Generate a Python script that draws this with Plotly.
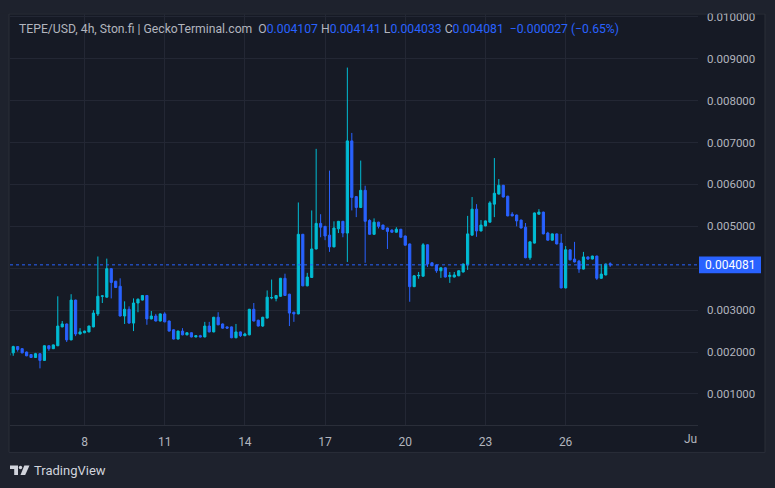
import pandas as pd
import plotly.graph_objects as go

# ---------------- data (4h candles, TEPE/USD) ----------------
start_time = "2024-06-05 04:00"
opens = [0.00192, 0.00198, 0.00213, 0.00208, 0.00200, 0.00194, 0.00187, 0.00196, 0.00180, 0.00215,
         0.00208, 0.00215, 0.00260, 0.00267, 0.00229, 0.00324, 0.00243, 0.00246, 0.00248, 0.00260,
         0.00291, 0.00333, 0.00331, 0.00399, 0.00369, 0.00357, 0.00286, 0.00302, 0.00269, 0.00317,
         0.00324, 0.00335, 0.00279, 0.00286, 0.00274, 0.00291, 0.00274, 0.00253, 0.00231, 0.00250,
         0.00241, 0.00246, 0.00236, 0.00239, 0.00236, 0.00262, 0.00248, 0.00283, 0.00267, 0.00260,
         0.00260, 0.00234, 0.00248, 0.00239, 0.00241, 0.00302, 0.00276, 0.00262, 0.00281, 0.00329,
         0.00328, 0.00333, 0.00376, 0.00338, 0.00295, 0.00291, 0.00481, 0.00358, 0.00378, 0.00446,
         0.00507, 0.00500, 0.00479, 0.00451, 0.00494, 0.00512, 0.00484, 0.00704, 0.00571, 0.00545,
         0.00586, 0.00514, 0.00481, 0.00510, 0.00503, 0.00496, 0.00491, 0.00486, 0.00493, 0.00477,
         0.00458, 0.00356, 0.00382, 0.00381, 0.00456, 0.00413, 0.00408, 0.00394, 0.00401, 0.00380,
         0.00379, 0.00382, 0.00391, 0.00408, 0.00479, 0.00541, 0.00489, 0.00501, 0.00510, 0.00553,
         0.00577, 0.00598, 0.00572, 0.00529, 0.00527, 0.00515, 0.00498, 0.00425, 0.00460, 0.00529,
         0.00534, 0.00484, 0.00467, 0.00482, 0.00460, 0.00353, 0.00444, 0.00422, 0.00417, 0.00398,
         0.00427, 0.00422, 0.00429, 0.00376, 0.00384, 0.004107]
highs = [0.00199, 0.00215, 0.00214, 0.00209, 0.00201, 0.00195, 0.00198, 0.00197, 0.00216, 0.00216,
         0.00218, 0.00333, 0.00274, 0.00268, 0.00338, 0.00325, 0.00257, 0.00251, 0.00263, 0.00300,
         0.00428, 0.00335, 0.00423, 0.00400, 0.00370, 0.00376, 0.00321, 0.00309, 0.00328, 0.00328,
         0.00336, 0.00336, 0.00298, 0.00291, 0.00292, 0.00295, 0.00275, 0.00254, 0.00251, 0.00257,
         0.00247, 0.00247, 0.00240, 0.00241, 0.00272, 0.00272, 0.00284, 0.00295, 0.00268, 0.00261,
         0.00261, 0.00267, 0.00249, 0.00246, 0.00303, 0.00317, 0.00277, 0.00284, 0.00347, 0.00373,
         0.00336, 0.00377, 0.00387, 0.00339, 0.00296, 0.00557, 0.00482, 0.00389, 0.00538, 0.00685,
         0.00529, 0.00501, 0.00633, 0.00512, 0.00513, 0.00513, 0.00879, 0.00723, 0.00572, 0.00657,
         0.00597, 0.00517, 0.00519, 0.00511, 0.00504, 0.00497, 0.00493, 0.00498, 0.00494, 0.00478,
         0.00459, 0.00383, 0.00391, 0.00460, 0.00457, 0.00414, 0.00409, 0.00402, 0.00402, 0.00391,
         0.00391, 0.00395, 0.00411, 0.00525, 0.00570, 0.00553, 0.00515, 0.00514, 0.00560, 0.00663,
         0.00613, 0.00599, 0.00573, 0.00534, 0.00528, 0.00516, 0.00508, 0.00464, 0.00533, 0.00541,
         0.00535, 0.00487, 0.00483, 0.00483, 0.00482, 0.00453, 0.00445, 0.00463, 0.00420, 0.00439,
         0.00428, 0.00430, 0.00430, 0.00410, 0.00411, 0.004141]
lows = [0.00180, 0.00191, 0.00201, 0.00197, 0.00190, 0.00186, 0.00186, 0.00161, 0.00179, 0.00203,
        0.00207, 0.00214, 0.00259, 0.00224, 0.00228, 0.00238, 0.00242, 0.00245, 0.00247, 0.00259,
        0.00286, 0.00317, 0.00330, 0.00328, 0.00353, 0.00285, 0.00267, 0.00268, 0.00250, 0.00295,
        0.00323, 0.00265, 0.00278, 0.00273, 0.00273, 0.00271, 0.00249, 0.00230, 0.00230, 0.00240,
        0.00240, 0.00235, 0.00235, 0.00235, 0.00235, 0.00247, 0.00247, 0.00264, 0.00256, 0.00255,
        0.00233, 0.00233, 0.00236, 0.00238, 0.00240, 0.00273, 0.00261, 0.00260, 0.00280, 0.00326,
        0.00321, 0.00332, 0.00334, 0.00262, 0.00272, 0.00290, 0.00357, 0.00357, 0.00377, 0.00445,
        0.00474, 0.00467, 0.00439, 0.00450, 0.00484, 0.00474, 0.00415, 0.00538, 0.00522, 0.00544,
        0.00413, 0.00480, 0.00480, 0.00495, 0.00492, 0.00446, 0.00485, 0.00485, 0.00473, 0.00454,
        0.00320, 0.00355, 0.00375, 0.00380, 0.00403, 0.00405, 0.00389, 0.00377, 0.00378, 0.00365,
        0.00378, 0.00381, 0.00390, 0.00396, 0.00478, 0.00475, 0.00488, 0.00500, 0.00509, 0.00522,
        0.00576, 0.00569, 0.00524, 0.00524, 0.00500, 0.00495, 0.00424, 0.00420, 0.00459, 0.00528,
        0.00481, 0.00466, 0.00466, 0.00457, 0.00352, 0.00352, 0.00419, 0.00414, 0.00389, 0.00397,
        0.00420, 0.00421, 0.00372, 0.00375, 0.00383, 0.004033]
closes = [0.00197, 0.00213, 0.00206, 0.00198, 0.00191, 0.00187, 0.00196, 0.00180, 0.00215, 0.00208,
          0.00217, 0.00262, 0.00267, 0.00229, 0.00324, 0.00243, 0.00248, 0.00250, 0.00262, 0.00293,
          0.00333, 0.00334, 0.00399, 0.00366, 0.00354, 0.00286, 0.00302, 0.00269, 0.00317, 0.00326,
          0.00335, 0.00279, 0.00286, 0.00274, 0.00291, 0.00272, 0.00250, 0.00231, 0.00250, 0.00241,
          0.00246, 0.00236, 0.00239, 0.00236, 0.00262, 0.00248, 0.00283, 0.00265, 0.00257, 0.00257,
          0.00234, 0.00248, 0.00239, 0.00243, 0.00302, 0.00274, 0.00262, 0.00283, 0.00331, 0.00330,
          0.00335, 0.00376, 0.00335, 0.00293, 0.00291, 0.00481, 0.00358, 0.00379, 0.00446, 0.00507,
          0.00498, 0.00477, 0.00451, 0.00496, 0.00512, 0.00484, 0.00704, 0.00569, 0.00545, 0.00586,
          0.00512, 0.00481, 0.00510, 0.00500, 0.00493, 0.00488, 0.00486, 0.00493, 0.00474, 0.00455,
          0.00356, 0.00382, 0.00383, 0.00456, 0.00410, 0.00406, 0.00394, 0.00401, 0.00379, 0.00383,
          0.00384, 0.00394, 0.00410, 0.00482, 0.00541, 0.00489, 0.00503, 0.00513, 0.00556, 0.00579,
          0.00598, 0.00570, 0.00525, 0.00525, 0.00513, 0.00496, 0.00425, 0.00463, 0.00532, 0.00534,
          0.00482, 0.00467, 0.00482, 0.00458, 0.00353, 0.00444, 0.00420, 0.00415, 0.00398, 0.00427,
          0.00422, 0.00429, 0.00376, 0.00386, 0.00410, 0.004081]
times = pd.date_range(start_time, periods=len(opens), freq="4h")

day_tick_dates = ["2024-06-08", "2024-06-11", "2024-06-14", "2024-06-17",
                  "2024-06-20", "2024-06-23", "2024-06-26"]
day_tick_labels = ["8", "11", "14", "17", "20", "23", "26"]
price_ticks = [0.001, 0.002, 0.003, 0.004, 0.005, 0.006, 0.007, 0.008, 0.009, 0.010]
# the 0.004000 label sits under the last-price badge in the reference
price_tick_labels = ["0.001000", "0.002000", "0.003000", "", "0.005000",
                     "0.006000", "0.007000", "0.008000", "0.009000", "0.010000"]

symbol_text = "TEPE/USD, 4h, Ston.fi | GeckoTerminal.com"
last_change = -0.000027
last_change_pct = -0.65

# ---------------- style ----------------
W, H = 775, 488
PL, PR, PT, PB = 10, 698, 10, 425   # plot area pixels
OUTER = "#1e222d"
PANEL = "#161a25"
BORDER = "#2a2e39"
GRID = "#232734"
TEXT = "#b2b5be"
UP = "#00bcd4"
DOWN = "#2962ff"
FONT = "Roboto"


def px(xp):
    return (xp - PL) / (PR - PL)


def py(yp):
    return (PB - yp) / (PB - PT)


fig = go.Figure()
fig.add_trace(go.Candlestick(
    x=times, open=opens, high=highs, low=lows, close=closes,
    increasing=dict(line=dict(color=UP, width=1), fillcolor=UP),
    decreasing=dict(line=dict(color=DOWN, width=1), fillcolor=DOWN),
    whiskerwidth=0, showlegend=False, hoverinfo="skip",
))

last_o, last_h, last_l, last_c = opens[-1], highs[-1], lows[-1], closes[-1]

shapes = [
    # panel
    dict(type="rect", xref="paper", yref="paper", x0=px(9), x1=px(765), y0=py(452.7), y1=py(10),
         fillcolor=PANEL, line=dict(color=BORDER, width=1), layer="below"),
    # strip above the panel (clips the top price label like the reference)
    dict(type="rect", xref="paper", yref="paper", x0=px(0), x1=px(775), y0=py(9.5), y1=py(0),
         fillcolor=OUTER, line=dict(width=0), layer="above"),
    # current price dotted line
    dict(type="line", xref="paper", yref="y", x0=0, x1=1, y0=last_c, y1=last_c,
         line=dict(color=DOWN, width=1, dash="dot")),
    # price label box
    dict(type="rect", xref="paper", yref="y", x0=px(699), x1=px(761),
         y0=last_c - 8.5 / 42.3 * 0.001, y1=last_c + 8.5 / 42.3 * 0.001,
         fillcolor=DOWN, line=dict(width=0)),
    # TradingView logo pieces
    dict(type="path", xref="paper", yref="paper",
         path=f"M {px(10)} {py(466)} L {px(18)} {py(466)} L {px(18)} {py(475.5)} "
              f"L {px(14.2)} {py(475.5)} L {px(14.2)} {py(469.5)} L {px(10)} {py(469.5)} Z",
         fillcolor="#d1d4dc", line=dict(width=0)),
    dict(type="circle", xref="paper", yref="paper", x0=px(18.8), x1=px(22.2), y0=py(469.6), y1=py(466.2),
         fillcolor="#d1d4dc", line=dict(width=0)),
    dict(type="path", xref="paper", yref="paper",
         path=f"M {px(24.3)} {py(466)} L {px(29.5)} {py(466)} L {px(25.2)} {py(475.5)} "
              f"L {px(20.5)} {py(475.5)} Z",
         fillcolor="#d1d4dc", line=dict(width=0)),
]

blue = DOWN if last_c < last_o else UP
sp = "&nbsp;"
header = (f"<span style='color:{TEXT}'>{symbol_text}{sp}{sp}O</span>"
          f"<span style='color:{blue}'>{last_o:.6f}</span>{sp}"
          f"<span style='color:{TEXT}'>H</span><span style='color:{blue}'>{last_h:.6f}</span>{sp}"
          f"<span style='color:{TEXT}'>L</span><span style='color:{blue}'>{last_l:.6f}</span>{sp}"
          f"<span style='color:{TEXT}'>C</span><span style='color:{blue}'>{last_c:.6f}</span>{sp}{sp}"
          f"<span style='color:{blue}'>{last_change:+.6f} ({last_change_pct:+.2f}%)</span>"
          ).replace("-", "−")

annotations = [
    dict(text=header, xref="paper", yref="paper", x=px(17), y=py(25), xanchor="left", yanchor="middle",
         showarrow=False, font=dict(size=12.2, family=FONT, color=TEXT)),
    dict(text=f"{last_c:.6f}", xref="paper", yref="y", x=px(730), y=last_c, xanchor="center",
         yanchor="middle", showarrow=False, font=dict(size=12, family=FONT, color="#ffffff")),
    dict(text="Ju", xref="paper", yref="paper", x=px(699), y=py(439), xanchor="right", yanchor="middle",
         showarrow=False, font=dict(size=12, family=FONT, color=TEXT)),
    dict(text="TradingView", xref="paper", yref="paper", x=px(32), y=py(471), xanchor="left",
         yanchor="middle", showarrow=False, font=dict(size=13, family=FONT, color="#d1d4dc")),
]

fig.update_layout(
    width=W, height=H,
    margin=dict(l=PL, r=W - PR, t=PT, b=H - PB, pad=0),
    paper_bgcolor=OUTER, plot_bgcolor=PANEL,
    boxgap=0.3,
    shapes=shapes, annotations=annotations,
    showlegend=False,
    xaxis=dict(
        type="date",
        range=["2024-06-05 05:06", "2024-06-30 22:51"],
        rangeslider=dict(visible=False),
        tickvals=day_tick_dates, ticktext=day_tick_labels,
        showgrid=True, gridcolor=GRID, gridwidth=1,
        showline=True, linecolor=BORDER, linewidth=1,
        ticks="", ticklabelstandoff=6,
        tickfont=dict(size=12, family=FONT, color=TEXT),
        zeroline=False, fixedrange=True,
    ),
    yaxis=dict(
        side="right",
        range=[0.000258, 0.010069],
        tickvals=price_ticks, ticktext=price_tick_labels,
        showgrid=True, gridcolor=GRID, gridwidth=1,
        showline=False, ticks="", ticklabelstandoff=8,
        tickfont=dict(size=11.5, family=FONT, color=TEXT),
        zeroline=False, fixedrange=True,
    ),
)

fig.write_html(
    "out.html",
    config={"displayModeBar": False},
    post_script="document.body.style.margin='0';document.body.style.background='#1e222d';",
)
